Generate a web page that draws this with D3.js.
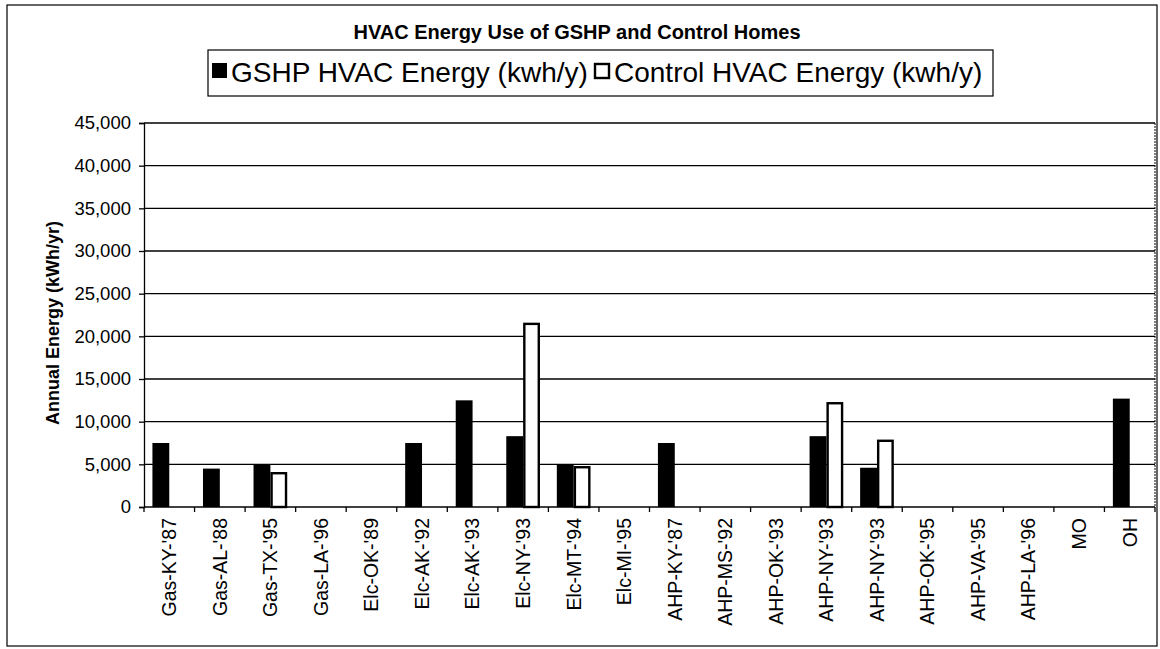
<!DOCTYPE html>
<html>
<head>
<meta charset="utf-8">
<script src="https://cdn.jsdelivr.net/npm/d3@7"></script>
<style>
  body { margin: 0; background: #fff; }
  svg { display: block; font-family: "Liberation Sans", Arial, sans-serif; }
  .grid line { stroke: #000; stroke-width: 1.3; }
  .axis path, .axis line { stroke: #000; stroke-width: 1.3; }
  .axis text { fill: #000; }
</style>
</head>
<body>
<svg id="chart" width="1160" height="649"></svg>
<script>
const categories = ["Gas-KY-'87", "Gas-AL-'88", "Gas-TX-'95", "Gas-LA-'96", "Elc-OK-'89",
  "Elc-AK-'92", "Elc-AK-'93", "Elc-NY-'93", "Elc-MT-'94", "Elc-MI-'95", "AHP-KY-'87",
  "AHP-MS-'92", "AHP-OK-'93", "AHP-NY-'93", "AHP-NY-'93", "AHP-OK-'95", "AHP-VA-'95",
  "AHP-LA-'96", "MO", "OH"];
const gshp    = [7500, 4500, 5000, 0, 0, 7500, 12500, 8300, 5000, 0, 7500, 0, 0, 8300, 4600, 0, 0, 0, 0, 12700];
const control = [0, 0, 4100, 0, 0, 0, 0, 21600, 4800, 0, 0, 0, 0, 12300, 7900, 0, 0, 0, 0, 0];
const seriesNames = ["GSHP HVAC Energy (kwh/y)", "Control HVAC Energy (kwh/y)"];
const yTicks = [0, 5000, 10000, 15000, 20000, 25000, 30000, 35000, 40000, 45000];

const svg = d3.select('#chart');
const pLeft = 144, pRight = 1155, pTop = 123, pBottom = 507;

// chart border
svg.append('rect')
  .attr('x', 7).attr('y', 5).attr('width', 1150).attr('height', 641)
  .attr('fill', 'none').attr('stroke', '#000').attr('stroke-width', 1.2);

svg.append('text')
  .attr('x', 577).attr('y', 39)
  .attr('text-anchor', 'middle')
  .attr('font-size', 20).attr('font-weight', 'bold')
  .text('HVAC Energy Use of GSHP and Control Homes');

// legend
const lg = svg.append('g');
lg.append('rect')
  .attr('x', 208).attr('y', 50).attr('width', 785).attr('height', 46)
  .attr('fill', '#fff').attr('stroke', '#000').attr('stroke-width', 1.2);
lg.append('rect').attr('x', 212).attr('y', 63).attr('width', 15).attr('height', 15).attr('fill', '#000');
lg.append('text').attr('x', 231).attr('y', 82).attr('font-size', 28).text(seriesNames[0]);
lg.append('rect').attr('x', 595).attr('y', 64).attr('width', 14).attr('height', 14)
  .attr('fill', '#fff').attr('stroke', '#000').attr('stroke-width', 2.4);
lg.append('text').attr('x', 614).attr('y', 82).attr('font-size', 28).text(seriesNames[1]);

const idx = categories.map((c, i) => i);
const x = d3.scaleBand().domain(idx).range([pLeft, pRight]).paddingInner(1/3).paddingOuter(1/6);
const x1 = d3.scaleBand().domain([0, 1]).range([0, x.bandwidth()]);
const y = d3.scaleLinear().domain([0, 45000]).range([pBottom, pTop]);

// gridlines
svg.append('g').attr('class', 'grid')
  .selectAll('line').data(yTicks.filter(d => d > 0)).join('line')
  .attr('x1', pLeft).attr('x2', pRight)
  .attr('y1', d => y(d)).attr('y2', d => y(d));

// plot area right edge
svg.append('line')
  .attr('x1', pRight).attr('x2', pRight).attr('y1', pTop).attr('y2', pBottom)
  .attr('stroke', '#000').attr('stroke-width', 1).attr('stroke-dasharray', '2,1');

// bars
const step = x.step();
svg.append('g').selectAll('rect').data(gshp).join('rect')
  .attr('x', (d, i) => x(i) + x1(0))
  .attr('y', d => y(d))
  .attr('width', x1.bandwidth())
  .attr('height', d => y(0) - y(d))
  .attr('fill', '#000');

svg.append('g').selectAll('rect').data(control.map((v, i) => ({v, i})).filter(d => d.v > 0)).join('rect')
  .attr('x', d => x(d.i) + x1(1) + 1.2)
  .attr('y', d => y(d.v) + 1.2)
  .attr('width', x1.bandwidth() - 2.4)
  .attr('height', d => y(0) - y(d.v) - 1.2)
  .attr('fill', '#fff').attr('stroke', '#000').attr('stroke-width', 2.4);

// y axis
const aY = d3.axisLeft(y).tickValues(yTicks).tickSize(5).tickPadding(8)
  .tickFormat(d3.format(','));
svg.append('g').attr('class', 'axis axis--y')
  .attr('transform', `translate(${pLeft},0)`)
  .call(aY)
  .call(g => g.selectAll('text').attr('font-size', 18.5).attr('font-family', null));

// x axis: ticks between categories, labels rotated
const bounds = idx.map(i => x(i) - step * (1/6)).concat([pRight]);
const xg = svg.append('g').attr('class', 'axis axis--x');
xg.append('line').attr('x1', pLeft).attr('x2', pRight).attr('y1', pBottom).attr('y2', pBottom);
xg.selectAll('line.tk').data(bounds).join('line').attr('class', 'tk')
  .attr('x1', d => d).attr('x2', d => d).attr('y1', pBottom).attr('y2', pBottom + 5);
xg.selectAll('text').data(idx).join('text')
  .attr('transform', i => `translate(${x(i) + x.bandwidth() / 2},${pBottom + 11}) rotate(-90)`)
  .attr('dy', '0.35em')
  .attr('text-anchor', 'end')
  .attr('font-size', 19.5)
  .text(i => categories[i]);

svg.append('text')
  .attr('transform', `translate(59,323) rotate(-90)`)
  .attr('text-anchor', 'middle')
  .attr('font-size', 18).attr('font-weight', 'bold')
  .text('Annual Energy (kWh/yr)');
</script>
</body>
</html>
